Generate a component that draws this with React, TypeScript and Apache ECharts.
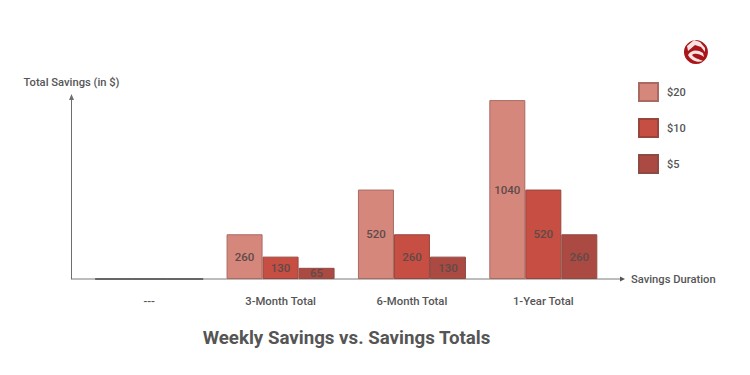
import React, { useEffect, useRef } from "react";
import * as echarts from "echarts";

const categories = ["---", "3-Month Total", "6-Month Total", "1-Year Total"];
const twenty = [0, 260, 520, 1040];
const ten = [0, 130, 260, 520];
const five = [0, 65, 130, 260];
const seriesNames = ["$20", "$10", "$5"];
const title = "Weekly Savings vs. Savings Totals";
const yName = "Total Savings (in $)";
const xName = "Savings Duration";

const logoDisc = "M12 0A12 12 0 1 1 11.9 0Z";
const logoArch = "M10 0L3 6L4 11L11 5L17 7L21 12L21 8L16 2Z";
const logoSwoosh = "M4 15C7 10 13 9 19 13L20 17C15 13 10 13 8 15C10 18 15 19 19 21C14 23 7 21 4 15Z";
echarts.graphic.registerShape("savingsLogoDisc", echarts.graphic.extendPath(logoDisc as any, {}) as any);
echarts.graphic.registerShape("savingsLogoArch", echarts.graphic.extendPath(logoArch as any, {}) as any);
echarts.graphic.registerShape("savingsLogoSwoosh", echarts.graphic.extendPath(logoSwoosh as any, {}) as any);

const font = "Roboto";
const barSeries = (name: string, data: number[], color: string, border: string) => ({
  name,
  type: "bar" as const,
  data: data.map((v) => (v === 0 ? { value: v, itemStyle: { borderColor: "#4a4a4a" } } : v)),
  barWidth: 36,
  barGap: "0%",
  itemStyle: { color, borderColor: border, borderWidth: 1 },
  label: {
    show: true,
    position: "inside" as const,
    color: "#5e4b49",
    fontFamily: font,
    fontWeight: 500,
    fontSize: 11.5,
    formatter: (p: any) => (p.value ? String(p.value) : ""),
  },
});

export default function App() {
  const ref = useRef<HTMLDivElement>(null);
  useEffect(() => {
    const chart = echarts.init(ref.current!, null, { renderer: "svg" });
    chart.setOption({
      animation: false,
      backgroundColor: "#ffffff",
      title: {
        text: title,
        left: 341.5,
        top: 323.5,
        textAlign: "center",
        textStyle: { fontFamily: font, fontSize: 18.7, fontWeight: 700, color: "#555555" },
      },
      legend: {
        orient: "vertical",
        left: 638,
        top: 82,
        padding: 0,
        itemWidth: 19,
        itemHeight: 18,
        itemGap: 16,
        icon: "rect",
        data: seriesNames,
        textStyle: { fontFamily: font, fontSize: 11, fontWeight: 500, color: "#555555", padding: [0, 0, 2, 4] },
      },
      grid: { left: 83.5, right: 141, top: 97, bottom: 96 },
      xAxis: {
        type: "category",
        data: categories,
        name: xName,
        nameGap: 22,
        nameTextStyle: { fontFamily: font, fontSize: 11.2, fontWeight: 500, color: "#555555" },
        axisLine: { show: false },
        axisTick: { show: false },
        axisLabel: { fontFamily: font, fontSize: 11.3, fontWeight: 500, color: "#555555", margin: 17 },
      },
      yAxis: {
        type: "value",
        min: 0,
        max: 1058,
        offset: 12,
        name: yName,
        nameGap: 9,
        nameTextStyle: { fontFamily: font, fontSize: 11.2, fontWeight: 500, color: "#555555", align: "center" },
        axisLine: {
          show: true,
          symbol: ["none", "triangle"],
          symbolSize: [5, 6],
          lineStyle: { color: "#6e6e6e", width: 1 },
        },
        axisTick: { show: false },
        axisLabel: { show: false },
        splitLine: { show: false },
      },
      series: [
        barSeries(seriesNames[0], twenty, "#d5877b", "#a96a62"),
        barSeries(seriesNames[1], ten, "#c64e42", "#98453d"),
        barSeries(seriesNames[2], five, "#ab4a42", "#8f4a43"),
      ],
      graphic: [
        {
          type: "line",
          z: 0,
          shape: { x1: 71.5, y1: 279, x2: 622, y2: 279 },
          style: { stroke: "#7a7a7a", lineWidth: 1 },
        },
        {
          type: "polygon",
          shape: { points: [[620, 276.5], [625, 279], [620, 281.5]] },
          style: { fill: "#555555" },
        },
        { type: "savingsLogoDisc", x: 684, y: 40, style: { fill: "#a8161a" } },
        { type: "savingsLogoArch", x: 684, y: 40, style: { fill: "#f6e4e2" } },
        { type: "savingsLogoSwoosh", x: 684, y: 40, style: { fill: "#f6e4e2" } },
      ],
    });
    return () => chart.dispose();
  }, []);
  return <div ref={ref} style={{ position: "fixed", left: 0, top: 0, width: 750, height: 375 }} />;
}
